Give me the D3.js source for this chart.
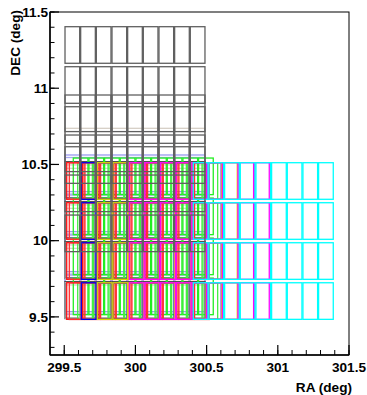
<!DOCTYPE html>
<html><head><meta charset="utf-8">
<script src="https://cdn.jsdelivr.net/npm/d3@7"></script>
<style>
html,body{margin:0;padding:0;background:#fff;}
text{font-family:"Liberation Sans",Arial,sans-serif;font-weight:bold;}
</style></head>
<body>
<svg id="chart" width="367" height="395"></svg>
<script>
// ---- data ----
const raTicks = [299.5, 300, 300.5, 301, 301.5];
const raTickLabels = ["299.5", "300", "300.5", "301", "301.5"];
const decTicks = [9.5, 10, 10.5, 11, 11.5];
const decTickLabels = ["9.5", "10", "10.5", "11", "11.5"];

// pointings (mosaic footprints): RA of left edge, DEC of top edge, outline colour (draw order)
const fieldNames = ["beige", "lavender1", "lavender2", "black", "lightgray", "green1", "green2", "red1", "red2", "blue", "yellow", "magenta", "cyan", "grayA", "grayB"];
const fieldRA  = [299.5054, 299.5054, 299.5054, 299.5054, 299.5054, 299.5636, 299.5946, 299.5173, 299.5356, 299.6198, 299.7322, 299.9570, 300.4065, 299.5054, 299.5054];
const fieldDEC = [10.737, 10.562, 10.5455, 10.518, 10.5145, 10.542, 10.5114, 10.5114, 10.5105, 10.5114, 10.5114, 10.5114, 10.5114, 11.4036, 10.9555];
const fieldColor = ["#d6cfc6", "#9a9af0", "#a8a8f2", "#000000", "#b4b4b4", "#22ee22", "#44ee44", "#ff1010", "#ff3030", "#0000ee", "#d8d800", "#ff00ff", "#00ffff", "#606060", "#606060"];

// chip layout inside one mosaic: column RA offsets, row DEC offsets (deg)
const chipColOffsets = [0, 0.110, 0.220, 0.330, 0.440, 0.550, 0.660, 0.770, 0.880];
const chipRowOffsets = [0, 0.2625, 0.5250, 0.7875];
const chipWidth = 0.103;
const chipHeight = 0.240;

// ---- chart ----
const svg = d3.select("#chart");
const x = d3.scaleLinear().domain([299.4, 301.5]).range([50, 349]);
const y = d3.scaleLinear().domain([9.25, 11.5]).range([355, 12]);

svg.append("rect").attr("x",0).attr("y",0).attr("width",367).attr("height",395).attr("fill","#fff");

const chips = [];
fieldNames.forEach((name, i) => {
  chipRowOffsets.forEach(dr => {
    chipColOffsets.forEach(dc => {
      chips.push({ra0: fieldRA[i] + dc, ra1: fieldRA[i] + dc + chipWidth,
                  decTop: fieldDEC[i] - dr, decBot: fieldDEC[i] - dr - chipHeight,
                  color: fieldColor[i]});
    });
  });
});

svg.append("g").selectAll("rect").data(chips).join("rect")
  .attr("x", d => x(d.ra0))
  .attr("y", d => y(d.decTop))
  .attr("width", d => x(d.ra1) - x(d.ra0))
  .attr("height", d => y(d.decBot) - y(d.decTop))
  .attr("fill", "none")
  .attr("stroke", d => d.color)
  .attr("stroke-width", 1.3);

// frame
svg.append("rect").attr("x",50).attr("y",12).attr("width",299).attr("height",343)
  .attr("fill","none").attr("stroke","#000").attr("stroke-width",1);

// x axis (ticks inward)
const xMinor = d3.range(2995, 3016, 1).map(v => v / 10);
const gx = svg.append("g");
gx.selectAll("line.mi").data(xMinor).join("line")
  .attr("x1", d => x(d)).attr("x2", d => x(d)).attr("y1", 355).attr("y2", 350)
  .attr("stroke","#000").attr("stroke-width",1);
gx.selectAll("line.ma").data(raTicks).join("line")
  .attr("x1", d => x(d)).attr("x2", d => x(d)).attr("y1", 355).attr("y2", 345)
  .attr("stroke","#000").attr("stroke-width",1.2);
gx.selectAll("text").data(raTicks).join("text")
  .attr("x", d => x(d)).attr("y", 372).attr("text-anchor","middle")
  .attr("font-size", 13.6).text((d,i) => raTickLabels[i]);
svg.append("line").attr("x1",50).attr("x2",349).attr("y1",355).attr("y2",355).attr("stroke","#000").attr("stroke-width",1.5);

// y axis
const yMinor = d3.range(93, 116, 1).map(v => v / 10);
const gy = svg.append("g");
gy.selectAll("line.mi").data(yMinor).join("line")
  .attr("x1", 50).attr("x2", 54.5).attr("y1", d => y(d)).attr("y2", d => y(d))
  .attr("stroke","#000").attr("stroke-width",1);
gy.selectAll("line.ma").data(decTicks).join("line")
  .attr("x1", 50).attr("x2", 59).attr("y1", d => y(d)).attr("y2", d => y(d))
  .attr("stroke","#000").attr("stroke-width",1.2);
gy.selectAll("text").data(decTicks).join("text")
  .attr("x", 48).attr("y", d => y(d) + 4.8).attr("text-anchor","end")
  .attr("font-size", 13.6).text((d,i) => decTickLabels[i]);
svg.append("line").attr("x1",50).attr("x2",50).attr("y1",12).attr("y2",355).attr("stroke","#000").attr("stroke-width",1.5);

// axis titles
svg.append("text").attr("x", 352).attr("y", 392).attr("text-anchor","end")
  .attr("font-size", 13.6).text("RA (deg)");
svg.append("text").attr("transform","translate(20,10) rotate(-90)").attr("text-anchor","end")
  .attr("font-size", 13.6).text("DEC (deg)");
</script>
</body></html>
